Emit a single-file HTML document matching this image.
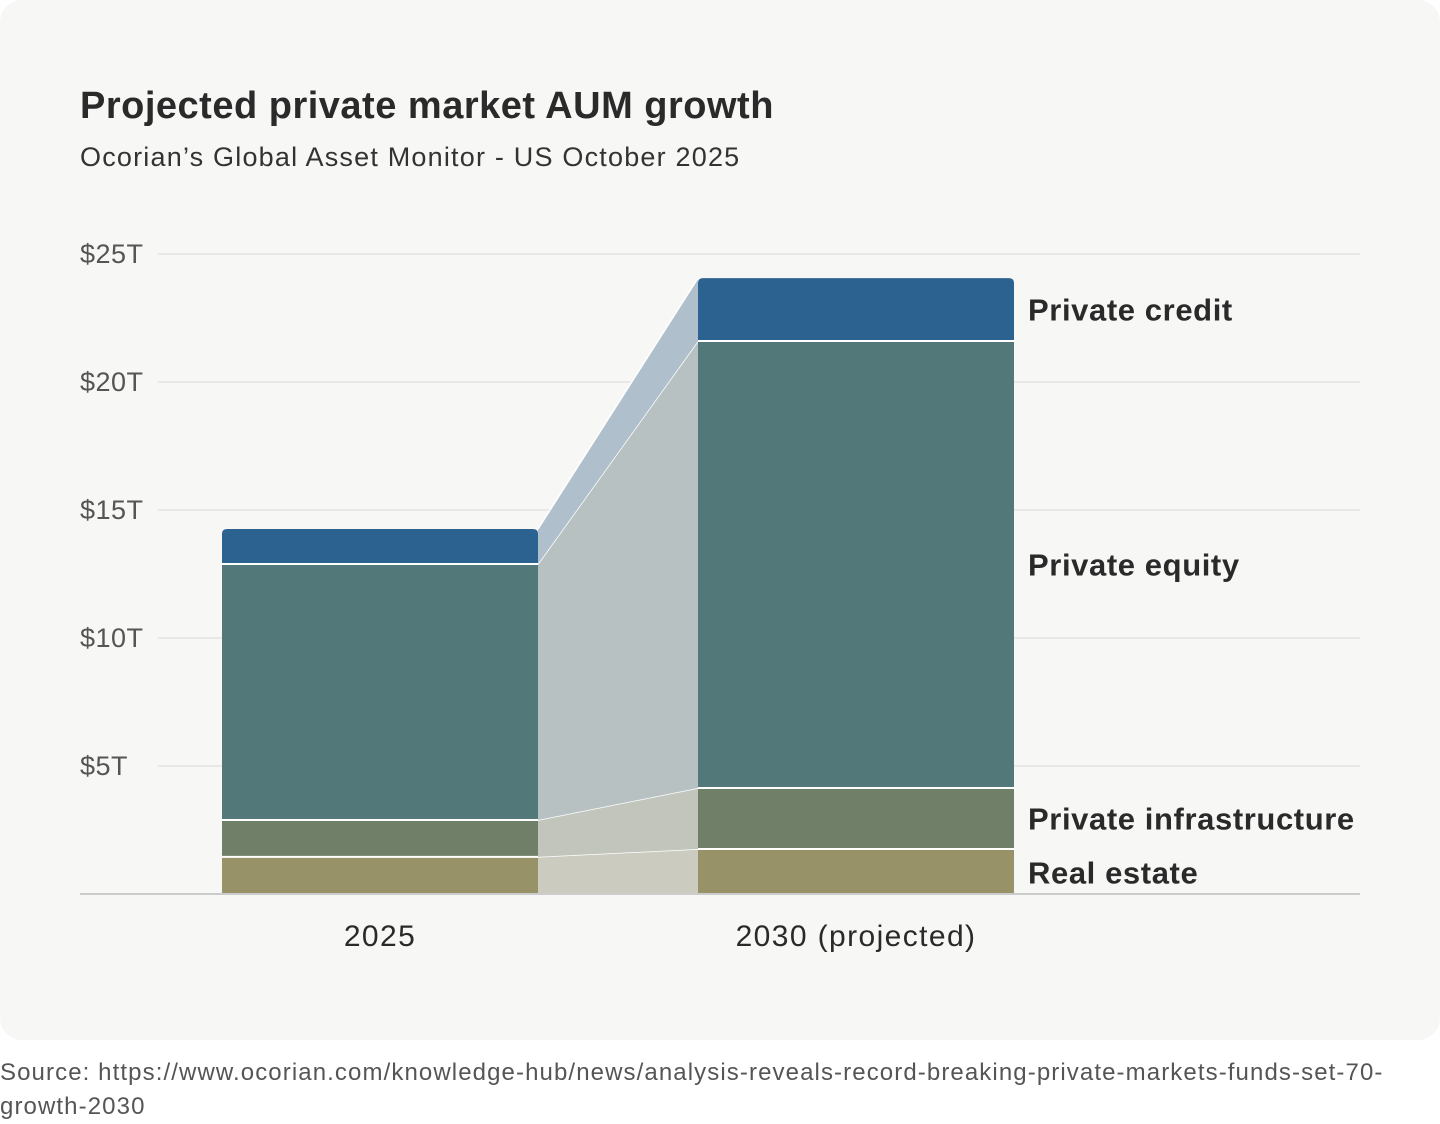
<!DOCTYPE html>
<html><head><meta charset="utf-8">
<style>
html,body{margin:0;padding:0;background:#fff;width:1440px;height:1120px;overflow:hidden;font-family:"Liberation Sans",sans-serif}
#card{position:absolute;left:0;top:0;width:1440px;height:1040px;background:#f7f7f5;border-radius:22px}
#src{position:absolute;left:0;top:1056px;width:1430px;font-size:24px;letter-spacing:1.1px;line-height:34px;color:#555;white-space:nowrap}
</style></head><body>
<div id="card">
<svg id="chart" width="1440" height="1040">
<text x="80" y="118" font-size="38" font-weight="bold" letter-spacing="0.5" fill="#2a2a2a">Projected private market AUM growth</text>
<text x="80" y="166" font-size="27" letter-spacing="1.2" fill="#333">Ocorian’s Global Asset Monitor - US October 2025</text>
<g id="grid"></g><g id="ribbons"></g><g id="bars"></g><g id="labels"></g>
</svg>
</div>
<div id="src">Source: https://www.ocorian.com/knowledge-hub/news/analysis-reveals-record-breaking-private-markets-funds-set-70-<br>growth-2030</div>
<script>
const categories=["2025","2030 (projected)"];
const series=["Real estate","Private infrastructure","Private equity","Private credit"];
const values2025=[1.45,1.44,10.0,1.37];
const values2030=[1.76,2.38,17.46,2.46];
const ticks=[5,10,15,20,25];
const tickLabels=["$5T","$10T","$15T","$20T","$25T"];
const colors=["#979267","#6f7f68","#53787a","#2c6290"];
const ribbonColors=["#cccbbf","#c2c5bc","#b7c1c1","#b0bfcc"];
const NS="http://www.w3.org/2000/svg";
const y0=894,pxPer=25.6;
const y=v=>y0-v*pxPer;
const barX=[222,698],barW=316;
function mk(tag,attrs,parent){const e=document.createElementNS(NS,tag);for(const k in attrs)e.setAttribute(k,attrs[k]);parent.appendChild(e);return e;}
const grid=document.getElementById('grid'),rib=document.getElementById('ribbons'),bars=document.getElementById('bars'),lab=document.getElementById('labels');
ticks.forEach((t,i)=>{
 const l=mk('line',{x1:158,x2:1360,y1:y(t),y2:y(t),stroke:'#e8e8e5','stroke-width':2},grid);
 
 
 const tx=mk('text',{x:80,y:y(t)+9,'font-size':27,'letter-spacing':0.5,fill:'#555'},grid);tx.textContent=tickLabels[i];
 
 
});
const data=[values2025,values2030];
const cum=data.map(v=>{let s=0;return v.map(x=>{const a=s;s+=x;return [a,s];});});
for(let i=0;i<series.length;i++){
 const a=cum[0][i],b=cum[1][i];
 const x1=barX[0]+barW,x2=barX[1];
 const p=mk('polygon',{points:`${x1},${y(a[1])} ${x2},${y(b[1])} ${x2},${y(b[0])} ${x1},${y(a[0])}`,fill:ribbonColors[i]},rib);
 
 
 const ln=mk('line',{x1:x1,y1:y(a[1]),x2:x2,y2:y(b[1]),stroke:'#fff','stroke-width':1.5},rib);
 
 
}
data.forEach((v,c)=>{
 for(let i=0;i<series.length;i++){
  const [a,b]=cum[c][i];const top=y(b),h=y(a)-y(b);let el;
  if(i===series.length-1){const r=5,x=barX[c],w=barW;
   el=mk('path',{d:`M${x},${top+h} V${top+r} Q${x},${top} ${x+r},${top} H${x+w-r} Q${x+w},${top} ${x+w},${top+r} V${top+h} Z`,fill:colors[i]},bars);
  }else el=mk('rect',{x:barX[c],y:top,width:barW,height:h,fill:colors[i]},bars);
  
  
  if(i>0){const ln=mk('line',{x1:barX[c],x2:barX[c]+barW,y1:y(a),y2:y(a),stroke:'#fff','stroke-width':2},bars);
   
   }
 }
 const t=mk('text',{x:barX[c]+barW/2,y:946,'font-size':30,'letter-spacing':1.4,fill:'#2a2a2a','text-anchor':'middle'},lab);t.textContent=categories[c];
 
 
});
const ax=mk('line',{x1:80,x2:1360,y1:y0,y2:y0,stroke:'#ccc','stroke-width':2},lab);


const labOffsets=[1,0,0,0];
for(let i=0;i<series.length;i++){const [a,b]=cum[1][i];
 const t=mk('text',{x:1028,y:(y(a)+y(b))/2+11+labOffsets[i],'font-size':31,'font-weight':'bold','letter-spacing':0.6,fill:'#2a2a2a'},lab);t.textContent=series[i];
 
 
}
</script>
</body></html>
